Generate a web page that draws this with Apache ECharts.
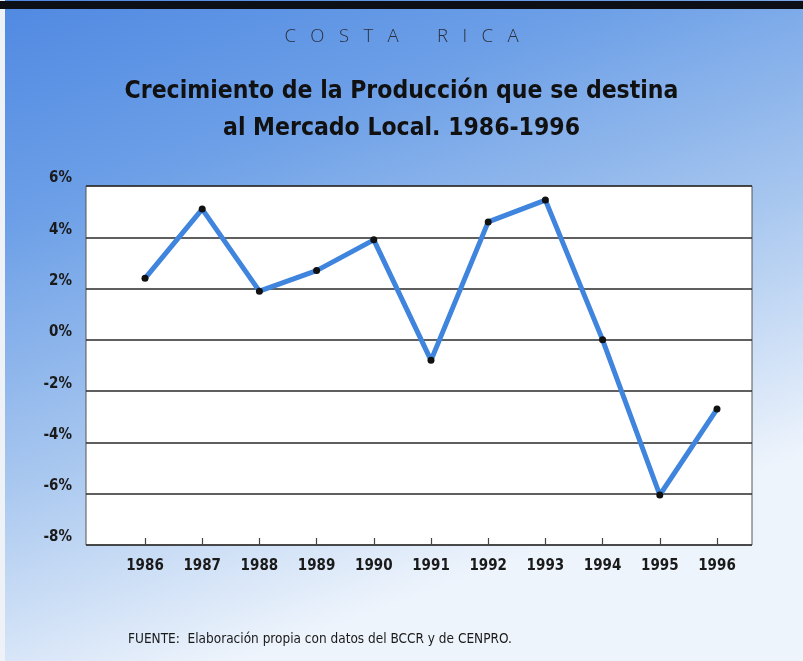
<!DOCTYPE html>
<html>
<head>
<meta charset="utf-8">
<script src="https://cdn.jsdelivr.net/npm/echarts@6/dist/echarts.min.js"></script>
<style>
html,body{margin:0;padding:0;background:#fff;}
#c{width:803px;height:661px;}
</style>
</head>
<body>
<div id="c"></div>
<script>
const years = ['1986','1987','1988','1989','1990','1991','1992','1993','1994','1995','1996'];
const growth = [2.4, 5.1, 1.9, 2.7, 3.9, -0.8, 4.6, 5.45, 0.0, -6.05, -2.7];
const yTicks = { min: -8, max: 6, interval: 2 };

const FONT = "'DejaVu Sans Condensed', 'Liberation Sans Narrow', 'Noto Sans', sans-serif";
const chart = echarts.init(document.getElementById('c'));
chart.setOption({
  animation: false,
  backgroundColor: {
    type: 'linear', x: 0, y: 0, x2: 0.3, y2: 1,
    colorStops: [
      { offset: 0, color: '#5089e2' },
      { offset: 0.3, color: '#6c9fe7' },
      { offset: 0.65, color: '#a8c7ef' },
      { offset: 1, color: '#eef4fc' }
    ]
  },
  graphic: [
    { type: 'rect', left: 0, top: 0, shape: { width: 5, height: 661 }, style: { fill: '#eef2f6' }, z: 10 },
    { type: 'rect', left: 0, top: 1, shape: { width: 803, height: 8 }, style: { fill: '#0c0f16' }, z: 10 },
    { type: 'text', left: 'center', top: 27, style: { text: 'C   O   S   T   A        R   I   C   A', font: "300 18.5px 'Open Sans', 'Noto Sans', sans-serif", fill: '#2b2f3a' } },
    { type: 'text', left: 'center', top: 79, style: { text: 'Crecimiento de la Producción que se destina', font: "bold 24.5px " + FONT, fill: '#111' } },
    { type: 'text', left: 'center', top: 116, style: { text: 'al Mercado Local. 1986-1996', font: "bold 24.5px " + FONT, fill: '#111' } },
    { type: 'text', left: 128, top: 632, style: { text: 'FUENTE:  Elaboración propia con datos del BCCR y de CENPRO.', font: "13.5px " + FONT, fill: '#1a1a1a' } }
  ],
  grid: [
    { left: 86, right: 51, top: 186, bottom: 116, show: true, backgroundColor: '#ffffff', borderColor: '#555', borderWidth: 1 },
    { left: 145, right: 86, top: 186, bottom: 116 }
  ],
  xAxis: [
    { gridIndex: 0, type: 'value', min: 0, max: 1, show: false },
    {
      gridIndex: 1, type: 'category', data: years, boundaryGap: false,
      axisLine: { show: false, onZero: false },
      axisTick: { show: true, inside: true, length: 7, lineStyle: { color: '#444', width: 1.2 } },
      axisLabel: { margin: 14, fontFamily: FONT, fontWeight: 'bold', fontSize: 15, color: '#1a1a1a' },
      splitLine: { show: false }
    }
  ],
  yAxis: [
    {
      gridIndex: 0, type: 'value', min: yTicks.min, max: yTicks.max, interval: yTicks.interval,
      axisLine: { show: false }, axisTick: { show: false },
      axisLabel: { margin: 14, formatter: '{value}%', fontFamily: FONT, fontWeight: 'bold', fontSize: 15, color: '#1a1a1a', verticalAlign: 'bottom' },
      splitLine: { show: true, lineStyle: { color: '#2a2a2a', width: 1.5 } }
    },
    { gridIndex: 1, type: 'value', min: yTicks.min, max: yTicks.max, show: false, splitLine: { show: false } }
  ],
  series: [{
    type: 'line', xAxisIndex: 1, yAxisIndex: 1, data: growth,
    symbol: 'circle', symbolSize: 7,
    itemStyle: { color: '#111' },
    lineStyle: { color: '#3f84dd', width: 5 },
    z: 5
  }]
});
</script>
</body>
</html>
